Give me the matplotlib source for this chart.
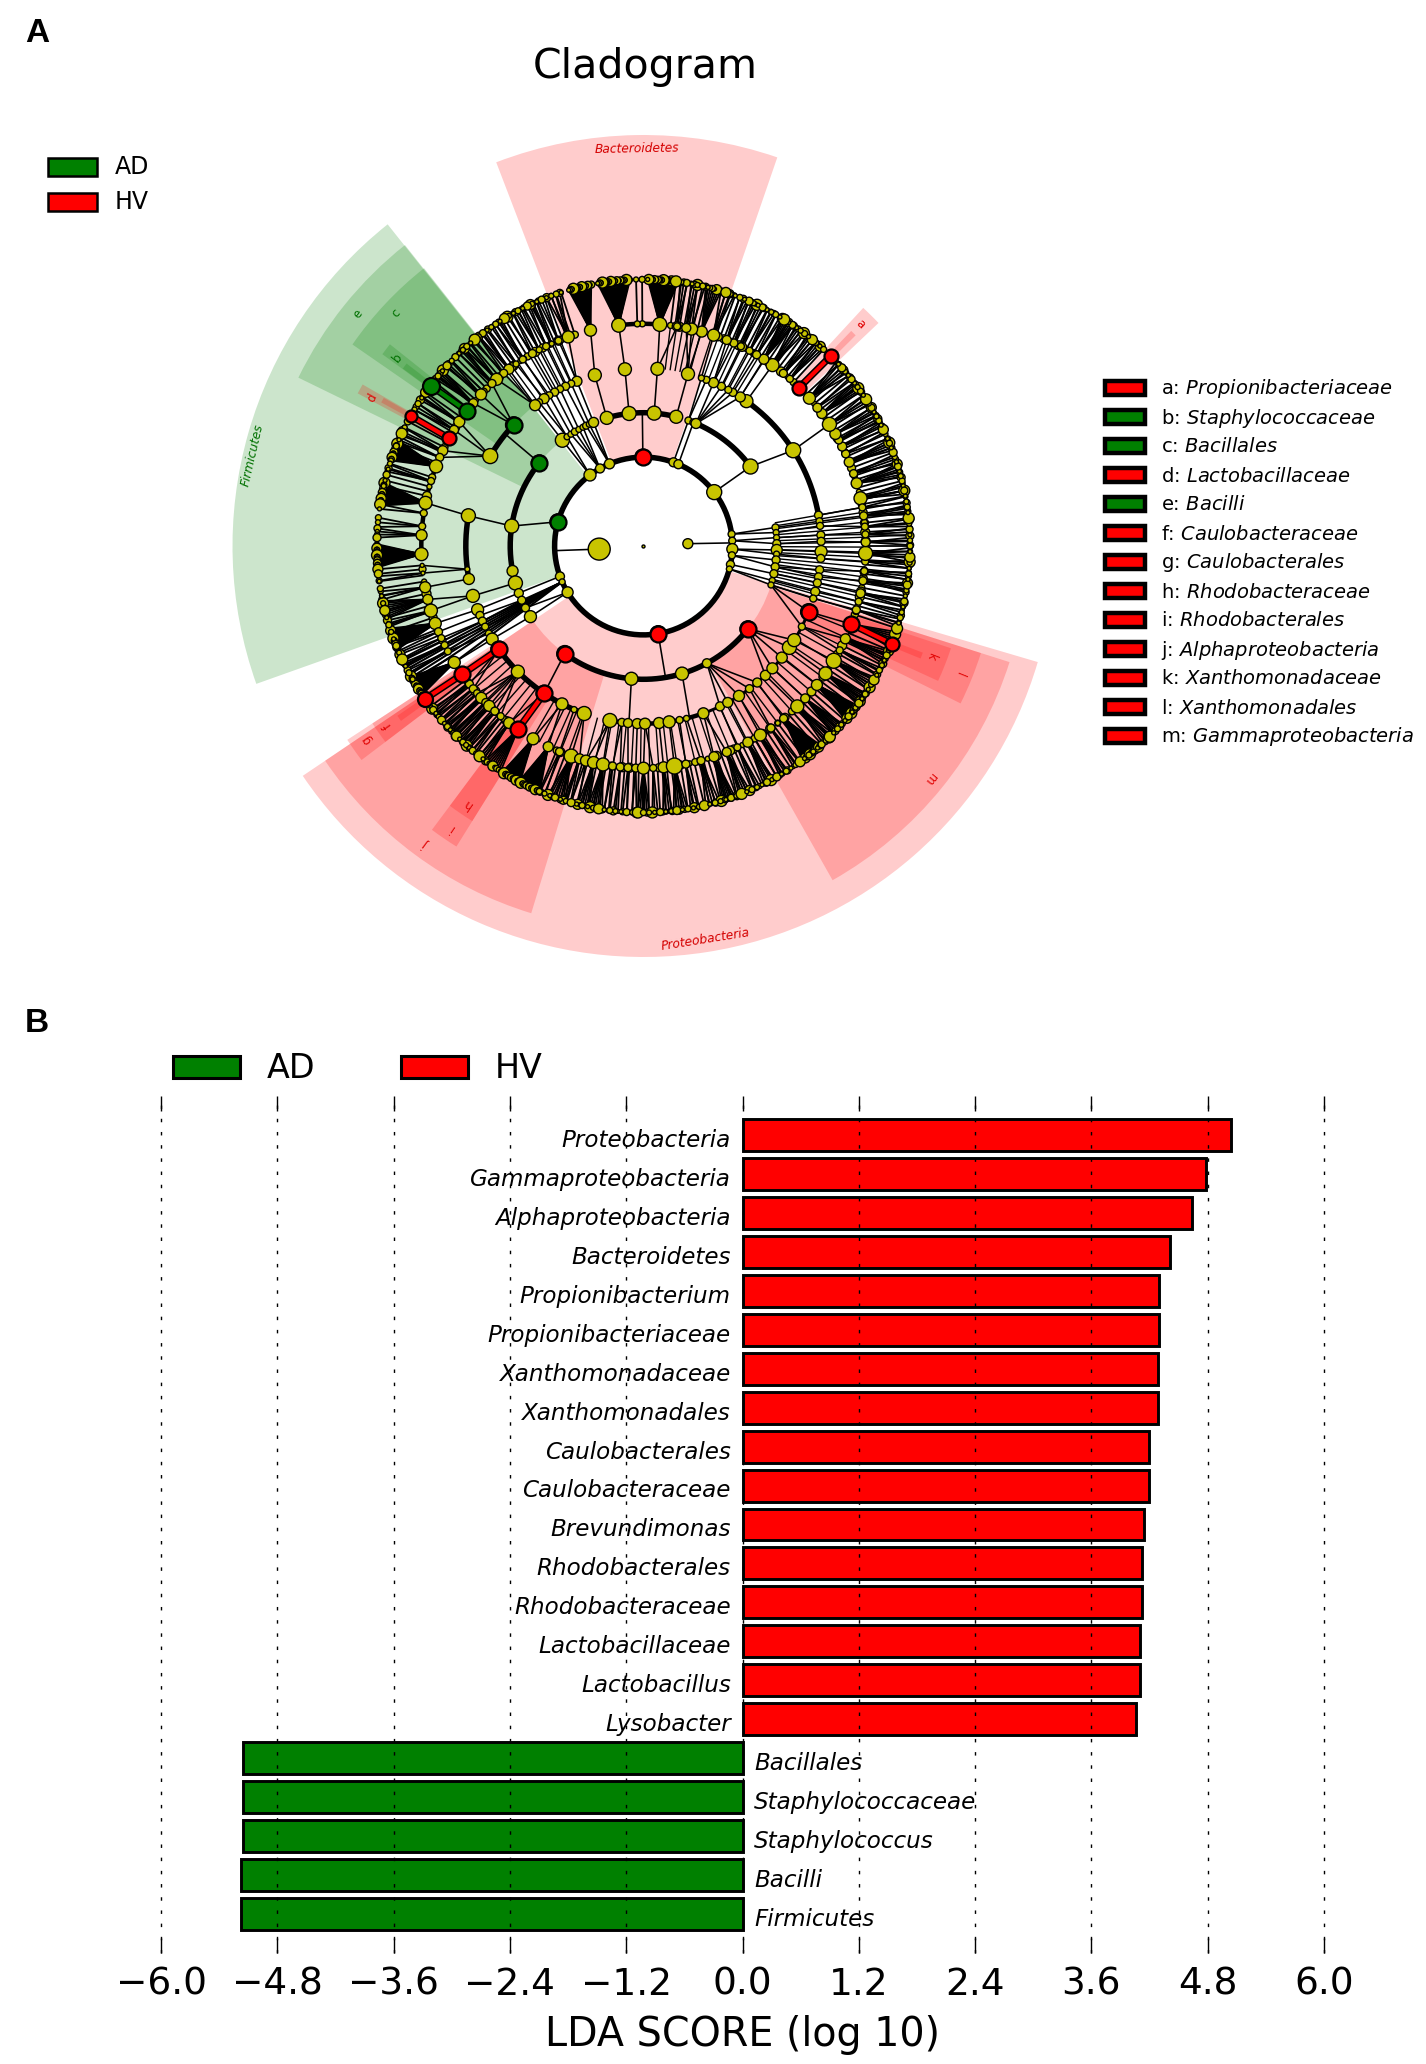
import numpy as np
import matplotlib
matplotlib.use("Agg")
import matplotlib.pyplot as plt
from matplotlib.patches import Rectangle

W, H = 1426, 2064
RED = "#ff0000"
GREEN = "#008000"
YELLOW = "#c8c400"

# ---- panel B values
taxa = ["Proteobacteria", "Gammaproteobacteria", "Alphaproteobacteria", "Bacteroidetes",
        "Propionibacterium", "Propionibacteriaceae", "Xanthomonadaceae", "Xanthomonadales",
        "Caulobacterales", "Caulobacteraceae", "Brevundimonas", "Rhodobacterales",
        "Rhodobacteraceae", "Lactobacillaceae", "Lactobacillus", "Lysobacter",
        "Bacillales", "Staphylococcaceae", "Staphylococcus", "Bacilli", "Firmicutes"]
lda = [5.04, 4.78, 4.64, 4.41, 4.30, 4.30, 4.29, 4.29, 4.19, 4.19, 4.14, 4.12, 4.12,
       4.10, 4.10, 4.06, -5.15, -5.15, -5.15, -5.17, -5.17]
xticks = [-6.0, -4.8, -3.6, -2.4, -1.2, 0.0, 1.2, 2.4, 3.6, 4.8, 6.0]

# ---- cladogram legend
key_letters = list("abcdefghijklm")
key_names = ["Propionibacteriaceae", "Staphylococcaceae", "Bacillales", "Lactobacillaceae",
             "Bacilli", "Caulobacteraceae", "Caulobacterales", "Rhodobacteraceae",
             "Rhodobacterales", "Alphaproteobacteria", "Xanthomonadaceae",
             "Xanthomonadales", "Gammaproteobacteria"]
key_group = ["HV", "AD", "AD", "HV", "AD", "HV", "HV", "HV", "HV", "HV", "HV", "HV", "HV"]

# ---- ring radius of each taxonomic level
R = [0, 44.4, 88.9, 133.3, 177.7, 222.2, 266.6]

# highlighted sectors: start angle, end angle, inner radius, outer radius, group
sectors = [(71, 111, 88.9, 411, "HV"), (128.5, 199.6, 88.9, 411, "AD"), (214, 343.6, 88.9, 411, "HV"),
           (128.4, 154, 133.3, 384, "AD"), (214, 253, 133.3, 384, "HV"), (299.5, 342.4, 133.3, 384, "HV"),
           (128.3, 145.3, 177.7, 354, "AD"), (213.2, 217.2, 177.7, 354, "HV"),
           (233.3, 238.1, 177.7, 354, "HV"), (333.6, 342.4, 177.7, 354, "HV"),
           (43.5, 47.3, 222.2, 324, "HV"), (141.5, 143.7, 222.2, 324, "AD"), (150.1, 151.9, 222.2, 324, "HV"),
           (213.2, 217.2, 222.2, 324, "HV"), (233.3, 238.1, 222.2, 324, "HV"), (335.4, 341.6, 222.2, 324, "HV"),
           (44.8, 46.0, 266.6, 299, "HV"), (142.4, 143.6, 266.6, 299, "AD"), (150.3, 151.3, 266.6, 299, "HV"),
           (214.6, 215.8, 266.6, 299, "HV"), (337.9, 339.1, 266.6, 299, "HV")]

# sector labels: text, angle, radius, rotation, group
phylum_labels = [("Bacteroidetes", 91, 397, 1, "HV"), ("Firmicutes", 166.9, 402, 77, "AD"),
                 ("Proteobacteria", 278.9, 398, 9, "HV")]
letter_angle = [45.6, 142.6, 136.8, 151.3, 141, 215, 215, 235.7, 235.7, 233.8, 339, 337.9, 320.9]
letter_radius = [310, 310, 340, 309, 368, 312, 338, 312, 341, 369, 308, 341, 369]

# nodes per level: angle, diameter
kingdoms = [(3.0, 10), (184, 22)]
phyla = [(90.4, 16), (127, 12), (119.3, 9), (112.5, 10), (70.3, 9), (66.9, 9), (37.3, 15),
         (7.7, 7), (3.4, 7), (-2, 11), (-6, 7), (-12, 8), (-15, 6), (279.5, 16),
         (164.2, 16), (200, 9), (203.8, 6), (211.4, 11)]
classes = [(106, 13), (96.2, 14), (85.4, 14), (75.8, 13), (127.5, 14), (125, 6), (123, 6), (121, 7),
           (119, 6), (117, 6), (115.5, 7), (114, 6), (112, 10), (70.3, 7), (68, 7), (66.8, 10), (36.6, 15),
           (8, 7), (5.8, 6), (3.6, 6), (1, 8), (-1.7, 11), (-3.5, 6), (-6, 8), (-9, 8), (-12, 8), (-15, 6), (-17, 6),
           (141.4, 16), (171.4, 14), (190.8, 11), (196.1, 14), (200.7, 9), (204, 8), (207.7, 8), (212, 12),
           (233.8, 16), (264.8, 13), (286.8, 13), (298.4, 9), (321.6, 16)]
orders = [(10, 8), (8, 7), (6.5, 7), (3.5, 8), (1.5, 8), (-1.8, 12), (-4, 8), (-7.7, 8), (-10, 8), (-12, 8),
          (-14.9, 9), (-17.2, 7), (32.6, 15), (54.6, 13), (57, 10), (59.8, 8), (61.5, 7), (64, 8), (66.8, 10),
          (69.3, 7), (71, 6), (75.5, 13), (85.5, 13), (96, 13), (105.9, 13), (112, 10), (114, 7), (116, 8),
          (118, 7), (120, 8), (122, 7), (124, 10), (126, 7), (127.6, 11), (137, 16), (149.6, 15), (170.2, 14),
          (187.5, 5), (190.7, 11), (196.3, 13), (201, 12), (203, 8), (205, 8), (207, 7), (209.5, 7), (211.6, 12),
          (215.5, 16), (225, 13), (236, 16), (242.7, 12), (247, 6), (250.5, 14), (259.1, 14), (263, 8), (265, 9),
          (268, 10), (270.5, 11), (275, 11), (278.3, 12), (281.7, 7), (284, 6), (289.7, 11), (295.5, 9),
          (298.3, 10), (302.5, 11), (306.6, 8), (309.8, 9), (313.3, 10), (316.5, 11), (321.1, 11), (325.2, 14),
          (328, 13), (333, 7), (338.3, 16)]
# family nodes: angle, diameter, half spread of its leaves, number of leaves
families = [(12.4, 13, 1.2, 4), (16.4, 11, 1.5, 6), (19, 8, 1, 3), (22.2, 10, 1.2, 5), (24.5, 8, .8, 2),
            (26.6, 9, .9, 3), (28.5, 8, .8, 3), (30.3, 11, 1, 4), (33.2, 14, 1.2, 4), (36.6, 10, 1.3, 6),
            (38.5, 9, .7, 2), (41.7, 12, 2, 6), (48.8, 7, 1, 4), (51, 8, 1.2, 4), (54.5, 13, 1.5, 5),
            (57.2, 10, 1.5, 8), (59.4, 8, .8, 2), (61.5, 7, .8, 3), (64, 7, .8, 3), (66, 8, .9, 3), (68, 9, .9, 3),
            (71.6, 12, 1.5, 4), (74.8, 11, 1.7, 8), (77.5, 12, .8, 2), (78.9, 9, .8, 3), (81.3, 7, .8, 3),
            (85.8, 14, 3.3, 14), (90.3, 6, .3, 1), (91.6, 6, .3, 1), (96.4, 14, 3.5, 14), (103.8, 12, 2.5, 10),
            (109.8, 12, 1.5, 4), (112.5, 7, .7, 2), (114.4, 5, .7, 3), (116, 7, .7, 2), (118, 6, .7, 3),
            (120, 8, .7, 2), (122.9, 7, .8, 3), (125, 6, .7, 2), (127.3, 10, .8, 3), (129, 8, .7, 2), (131.4, 12, .8, 3),
            (133, 8, .8, 3), (137, 11, .8, 3), (140, 9, 1.2, 6), (146, 11, .8, 3), (148.5, 9, .8, 3),
            (154.6, 10, .9, 3), (156.5, 8, .6, 2), (159, 13, 2.3, 10), (163, 7, .8, 3), (168.8, 13, 2.5, 10),
            (171.5, 7, .5, 2), (174.9, 7, 1, 3), (177.2, 11, 1, 4), (182.1, 13, 2.5, 12), (185, 4, .3, 1),
            (187, 4, .5, 2), (190.7, 11, .9, 3), (193.9, 10, 2, 9), (196.9, 13, .7, 3), (200.4, 12, 2.4, 10),
            (202.7, 8, .5, 2), (204.5, 7, .5, 2), (206.5, 7, .5, 3), (208.3, 7, .5, 2), (211.6, 12, 2.3, 10),
            (218.4, 8, .8, 3), (220, 8, .6, 2), (221.5, 7, .5, 2), (223.1, 11, .9, 4), (224.8, 8, .6, 3),
            (226, 11, .9, 3), (228, 8, 1, 5), (230, 7, .8, 3), (232.8, 11, .9, 4), (235.6, 8, 2, 9), (240.2, 12, 2.2, 10),
            (244.6, 10, 2.5, 10), (247.8, 8, .6, 2), (251, 14, 2, 8), (253.3, 10, .8, 3), (255, 11, .8, 2),
            (257, 12, 1.3, 6), (259.5, 13, 1.6, 7), (262, 8, .5, 2), (264, 8, .5, 2), (266, 8, .5, 2), (268, 8, .5, 2),
            (270, 12, 1.3, 6), (272.5, 7, .6, 2), (275.2, 11, 1, 4), (278, 16, 1.5, 6), (281, 8, .8, 3), (285, 8, 1.5, 5),
            (288.5, 10, 1.5, 8), (292, 9, 1.5, 6), (295, 7, .8, 3), (298, 10, 1.2, 5), (301.7, 12, 1, 4), (305, 8, .8, 3),
            (309.1, 8, 2.5, 14), (313.8, 13, 1.5, 6), (316.7, 9, 1.5, 8), (321.3, 11, 2, 10), (325, 13, 1.5, 8),
            (328.9, 15, 1.5, 6), (332, 7, .8, 3), (335.3, 10, 1.5, 6), (339.4, 8, 1.8, 8), (343.3, 8, .8, 3),
            (345.5, 7, .6, 2), (347.7, 9, .8, 3), (351, 8, 1, 4), (353.5, 7, .8, 3), (356, 7, .8, 3), (358.1, 14, 1.5, 5),
            (1, 9, .8, 3), (3, 7, .8, 3), (5, 7, .8, 3), (7.8, 8, 1, 4), (10, 7, .7, 2)]
leaf_sizes = [5, 4, 7, 4, 5, 8, 4, 6, 4, 5, 10, 4, 6, 5, 4, 7, 5, 11, 4, 6]
family_small = [7, 5, 9, 6, 8, 5]

# bundles of nearly parallel branches: first angle, last angle, branches, start level
bundles = [(12, 43, 30, 5), (47.5, 72, 24, 5), (76, 83, 7, 5), (108, 136, 26, 5), (136, 158, 16, 5),
           (162, 167, 5, 5), (186, 210, 16, 5), (217, 233, 18, 5), (247, 270, 20, 5), (270, 300, 26, 5),
           (300, 337, 32, 5), (342, 372, 26, 5), (-17, 10, 22, 3), (-17, 10, 22, 4), (57, 72, 10, 4), (112, 128, 10, 4),
           (218, 233, 8, 4), (255, 338, 36, 4), (75, 83, 6, 4), (240, 250, 6, 4)]

# biomarker nodes: level, angle, group
marked = [(2, 90.4, "HV"), (2, 279.5, "HV"), (2, 164.2, "AD"), (3, 141.4, "AD"), (3, 233.8, "HV"), (3, 321.6, "HV"),
          (4, 137, "AD"), (4, 215.5, "HV"), (4, 236, "HV"), (4, 338.3, "HV")]
marked_tips = [(5, 45.5, 14, "HV"), (5, 142.6, 16, "AD"), (5, 151, 14, "HV"), (5, 215.3, 16, "HV"),
               (5, 235.6, 16, "HV"), (5, 339.4, 16, "HV"),
               (6, 45.4, 14, "HV"), (6, 143, 17, "AD"), (6, 150.8, 12, "HV"), (6, 215, 15, "HV"), (6, 338.5, 14, "HV")]
marked_links = [(5, 45.5, 45.4, "HV"), (5, 142.6, 143, "AD"), (5, 151, 150.8, "HV"), (5, 215.3, 215, "HV"),
                (4, 215.5, 215.3, "HV"), (4, 236, 235.6, "HV"), (5, 339.4, 338.5, "HV")]

# arcs joining siblings: level, from, to, width px
thick_arcs = [(2, 0, 360, 5.5), (3, 75.8, 106, 5.5), (3, 141.4, 196.1, 5.5), (3, 233.8, 321.6, 5.5), (3, 36.6, 66.8, 5.5),
              (4, 10, 54.6, 5.5), (4, 137, 149.6, 5.5), (4, 170.2, 190.7, 5.5), (4, 215.5, 250.5, 5.5), (4, 259.1, 289.7, 4.5),
              (5, 85.8, 96.4, 4.5), (5, 159, 182.1, 4.5), (5, 12.4, 54.5, 2.5)]
thin_arcs = [(4, 289.7, 338.3, 3), (3, 112, 127.5, 1.5), (5, 218, 233, 1.5), (5, 253, 270, 1.5)]
# stems that reach an arc instead of a sibling node
stems = [(1, 3, 2), (1, 184, 183), (2, 37.3, 36.6), (2, 90.4, 90.5), (2, 164.2, 171.4), (2, 279.5, 279.5),
         (3, 36.6, 32.6), (3, 141.4, 141), (3, 171.4, 170.2), (3, 233.8, 236), (3, 264.8, 265.3), (3, 286.8, 285),
         (4, 54.6, 54.5), (4, 32.6, 33.2), (4, 85.5, 85.8), (4, 96, 96.4), (4, 170.2, 168.8)]

fig = plt.figure(figsize=(W / 100, H / 100), dpi=100, facecolor="white")


def group_color(g):
    return RED if g == "HV" else GREEN


def on_arc(level, a):
    a = a % 360
    for lv, a0, a1, _ in thick_arcs:
        if lv == level and a0 <= a <= a1:
            return True
    return False


def nearest(nodes, a):
    angs = np.array([n[0] for n in nodes])
    diff = (angs - a + 180) % 360 - 180
    return angs[np.argmin(np.abs(diff))]


def link(ax, lv1, a1, lv2, a2, width=1.15, color="black", z=2):
    ax.plot(np.radians([a1, a2]), [R[lv1], R[lv2]], color=color, lw=width, zorder=z, solid_capstyle="butt")


def dots(ax, level, nodes, z=4):
    th = np.radians([n[0] for n in nodes])
    sz = [(n[1] * 0.72) ** 2 for n in nodes]
    ax.scatter(th, [R[level]] * len(nodes), s=sz, c=YELLOW, edgecolors="black", linewidths=1.0, zorder=z, clip_on=False)


# ---- panel A
rmax = 420
cx, cy = 643.5, 546
ax = fig.add_axes([(cx - rmax) / W, 1 - (cy + rmax) / H, 2 * rmax / W, 2 * rmax / H], polar=True)
ax.set_ylim(0, rmax)
ax.set_axis_off()

for a0, a1, r0, r1, g in sectors:
    ax.bar(np.radians((a0 + a1) / 2), r1 - r0, width=np.radians(a1 - a0), bottom=r0,
           color=group_color(g), alpha=0.2, linewidth=0, zorder=1)

for txt, a, r, rot, g in phylum_labels:
    ax.text(np.radians(a), r, txt, color="#d40000" if g == "HV" else "#007000", fontsize=8.8, style="italic",
            rotation=rot, ha="center", va="center", rotation_mode="anchor", zorder=6)
for letter, a, r, g in zip(key_letters, letter_angle, letter_radius, key_group):
    ax.text(np.radians(a), r, letter, color="#e00000" if g == "HV" else "#007000", fontsize=8.6,
            rotation=a - 90, ha="center", va="center", rotation_mode="anchor", zorder=6)

for lv, a0, a1, wd in thick_arcs + thin_arcs:
    t = np.radians(np.linspace(a0, a1, 200))
    ax.plot(t, [R[lv]] * 200, color="black", lw=wd * 0.72, zorder=2.5, solid_capstyle="butt")

for lv, a1, a2 in stems:
    link(ax, lv, a1, lv + 1, a2)
for a, _ in classes:
    if not on_arc(3, a):
        link(ax, 2, nearest(phyla, a), 3, a)
for a, _ in orders:
    if not on_arc(4, a):
        link(ax, 3, nearest(classes, a), 4, a)
for row in families:
    if not on_arc(5, row[0]):
        link(ax, 4, nearest(orders, row[0]), 5, row[0])

# long spokes of the gap next to Firmicutes
for a in [205.5, 206.5, 207.5, 208.5, 209.5, 210.5, 212.5]:
    link(ax, 2, 203.8, 6, a, width=1.5)

leaf_a, leaf_d = [], []
for a, d, h, n in families:
    n = n * 2 if n >= 10 else n
    for la in np.linspace(a - h, a + h, n) if n > 1 else [a]:
        link(ax, 5, a, 6, la, width=1.3)
        leaf_a.append(la)
        leaf_d.append(leaf_sizes[len(leaf_a) % len(leaf_sizes)])

extra_family = []
for a0, a1, n, lv in bundles:
    for k, a in enumerate(np.linspace(a0, a1, n)):
        link(ax, lv, a, lv + 1, a, width=1.3 if lv == 5 else 1.0)
        if lv == 5:
            leaf_a.append(a)
            leaf_d.append(leaf_sizes[len(leaf_a) % len(leaf_sizes)])
            if k % 2 == 0:
                extra_family.append((a, family_small[k // 2 % len(family_small)]))
        elif lv == 4 and k % 2 == 0:
            extra_family.append((a, family_small[k // 2 % len(family_small)]))

dots(ax, 0, [(0, 3)])
dots(ax, 1, kingdoms)
dots(ax, 2, phyla)
dots(ax, 3, classes)
dots(ax, 4, orders)
dots(ax, 5, extra_family, z=3.8)
dots(ax, 5, [(f[0], f[1]) for f in families])
dots(ax, 6, list(zip(leaf_a, leaf_d)), z=3.5)

for lv, a1, a2, g in marked_links:
    link(ax, lv, a1, lv + 1, a2, width=5.2, z=5)
    link(ax, lv, a1, lv + 1, a2, width=3, color=group_color(g), z=5.1)
for lv, a, g in marked:
    d = dict(phyla + classes + orders)[a] if lv > 1 else 16
    ax.scatter(np.radians(a), R[lv], s=(d * 0.72) ** 2, c=group_color(g), edgecolors="black", linewidths=1.6, zorder=6)
for lv, a, d, g in marked_tips:
    ax.scatter(np.radians(a), R[lv], s=(d * 0.72) ** 2, c=group_color(g), edgecolors="black", linewidths=1.6, zorder=6)

# ---- panel B
x0, x1, y_top, y_bot = 161, 1324, 1096, 1953
bx = fig.add_axes([x0 / W, 1 - y_bot / H, (x1 - x0) / W, (y_bot - y_top) / H])
pos = np.arange(len(taxa))[::-1]
bx.barh(pos, lda, height=0.82, color=[RED if v > 0 else GREEN for v in lda], edgecolor="black", linewidth=2.1, zorder=2)
for p, name, v in zip(pos, taxa, lda):
    if v > 0:
        bx.text(-0.12, p - 0.14, name, ha="right", va="center", style="italic", fontsize=16.6, zorder=1)
    else:
        bx.text(0.12, p - 0.14, name, ha="left", va="center", style="italic", fontsize=16.6, zorder=1)
bx.set_xlim(-6, 6)
bx.set_ylim(-1, 21)
bx.set_yticks([])
bx.set_xticks(xticks)
bx.set_xticklabels(["%.1f" % t if t >= 0 else "\u2212%.1f" % abs(t) for t in xticks], fontsize=27)
bx.tick_params(axis="x", direction="in", length=11, width=1, top=True, pad=10)
for s in bx.spines.values():
    s.set_visible(False)
bx.set_axisbelow(False)
bx.grid(axis="x", color="black", linestyle=(0, (2.5, 7)), linewidth=1)
for gl in bx.get_xgridlines():
    gl.set_clip_on(False)
bx.set_xlabel("LDA SCORE (log 10)", fontsize=28.5, labelpad=9)

# ---- titles and legends, placed in figure pixels
ov = fig.add_axes([0, 0, 1, 1], facecolor="none")
ov.set_xlim(0, W)
ov.set_ylim(H, 0)
ov.axis("off")
ov.text(25, 33, "A", fontname="Liberation Sans", fontweight="bold", fontsize=24, va="center")
ov.text(25, 1023, "B", fontname="Liberation Sans", fontweight="bold", fontsize=24, va="center")
ov.text(645, 67, "Cladogram", fontsize=29.6, ha="center", va="center")


def box(x, y, w, h, g, lw):
    ov.add_patch(Rectangle((x, y), w, h, facecolor=group_color(g), edgecolor="black", linewidth=lw))


box(48, 158, 49, 18, "AD", 1.8)
box(48, 193, 49, 18, "HV", 1.8)
ov.text(115, 167, "AD", fontsize=17, va="center")
ov.text(115, 202, "HV", fontsize=17, va="center")

box(173, 1056, 67, 22, "AD", 2.2)
box(401, 1056, 67, 22, "HV", 2.2)
ov.text(267, 1068, "AD", fontsize=24, va="center")
ov.text(495, 1068, "HV", fontsize=24, va="center")

for i, (letter, name, g) in enumerate(zip(key_letters, key_names, key_group)):
    y = 379 + 29 * i
    box(1105, y + 2.2, 40, 14, g, 3.2)
    ov.text(1161, y + 10, "%s: $\\mathit{%s}$" % (letter, name), fontsize=14, va="center")

fig.savefig("out.png", dpi=100)
